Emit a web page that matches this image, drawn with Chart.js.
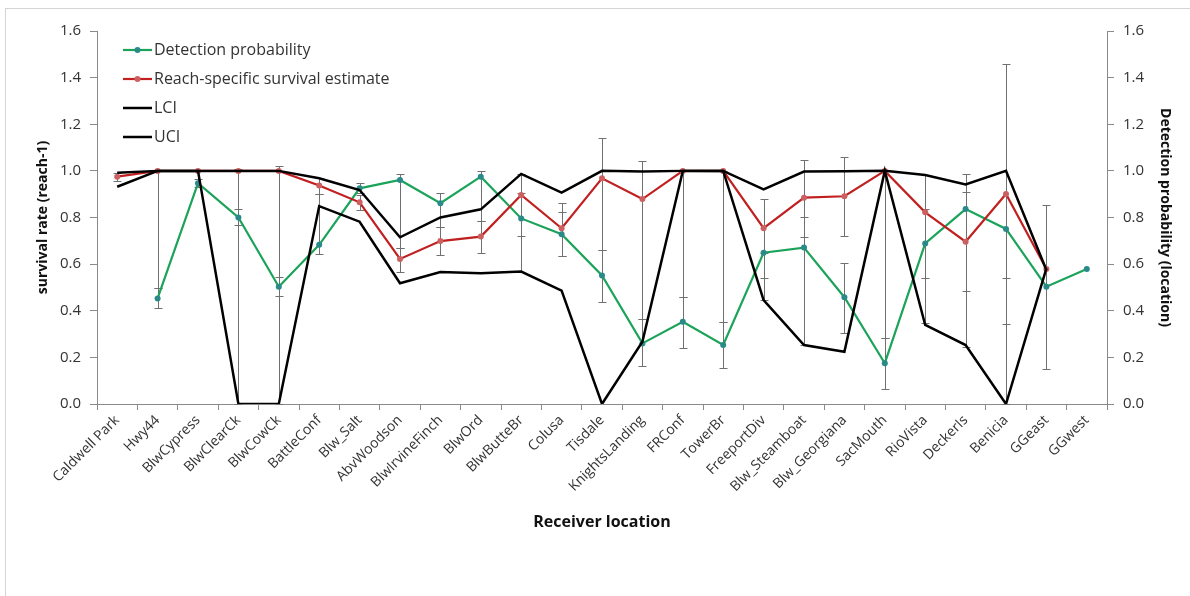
<!DOCTYPE html>
<html>
<head>
<meta charset="utf-8">
<script src="https://cdn.jsdelivr.net/npm/chart.js@4/dist/chart.umd.min.js"></script>
<style>
  html, body { margin: 0; padding: 0; background: #fff; overflow: hidden; }
  #wrap { position: relative; width: 1190px; height: 596px; }
  #frame { position: absolute; left: 5px; top: 8px; width: 2000px; height: 2000px;
           border-left: 1px solid #d4d4d4; border-top: 1px solid #d4d4d4; }
  canvas { position: absolute; left: 0; top: 0; }
</style>
</head>
<body>
<div id="wrap">
  <div id="frame"></div>
  <canvas id="chart" width="1190" height="596"></canvas>
</div>
<script>
// Receiver locations, upstream to downstream
const locations = ['Caldwell Park', 'Hwy44', 'BlwCypress', 'BlwClearCk', 'BlwCowCk', 'BattleConf',
  'Blw_Salt', 'AbvWoodson', 'BlwIrvineFinch', 'BlwOrd', 'BlwButteBr', 'Colusa', 'Tisdale',
  'KnightsLanding', 'FRConf', 'TowerBr', 'FreeportDiv', 'Blw_Steamboat', 'Blw_Georgiana',
  'SacMouth', 'RioVista', 'DeckerIs', 'Benicia', 'GGeast', 'GGwest'];

// Detection probability at each location (right axis)
const detection = [null, 0.453, 0.947, 0.800, 0.503, 0.683, 0.925, 0.961, 0.861, 0.975, 0.796, 0.728,
  0.551, 0.260, 0.353, 0.253, 0.649, 0.671, 0.458, 0.175, 0.689, 0.836, 0.751, 0.503, 0.579];
const detectionLow = [null, 0.413, 0.930, 0.767, 0.463, 0.643, 0.905, 0.670, 0.758, 0.786, 0.568, 0.636,
  0.439, 0.163, 0.242, 0.156, 0.446, 0.253, 0.303, 0.063, 0.346, 0.246, 0.000, 0.149, null];
const detectionHigh = [null, 0.496, 0.964, 0.835, 0.543, 0.900, 0.947, 0.985, 0.907, 1.000, 0.904, 0.825,
  0.661, 0.365, 0.458, 0.350, 0.649, 0.804, 0.606, 0.282, 0.835, 0.987, 0.539, 0.854, null];

// Reach-specific survival estimate (left axis)
const survival = [0.975, 1.000, 1.000, 1.000, 1.000, 0.937, 0.865, 0.622, 0.699, 0.718, 0.897, 0.754,
  0.968, 0.879, 1.000, 1.000, 0.754, 0.885, 0.891, 1.000, 0.822, 0.696, 0.901, 0.579, null];
const survivalLow = [0.955, 0.496, null, 0.000, 0.000, 0.900, 0.832, 0.568, 0.638, 0.646, 0.720, 0.636,
  0.661, 0.365, 0.458, 0.350, 0.539, 0.715, 0.721, 0.282, 0.539, 0.485, 0.343, null, null];
const survivalHigh = [0.990, 1.000, null, 1.010, 1.022, 0.968, 0.895, 0.670, 0.758, 0.786, 0.987, 0.861,
  1.140, 1.044, 1.000, 1.000, 0.878, 1.047, 1.061, 1.000, 0.982, 0.908, 1.459, null, null];

// Lower and upper confidence limits of survival
const lci = [0.932, 1.000, 1.000, 0.000, 0.000, 0.849, 0.782, 0.518, 0.566, 0.561, 0.568, 0.486,
  0.000, 0.267, 1.000, 1.000, 0.446, 0.253, 0.224, 1.000, 0.339, 0.253, 0.000, 0.582, null];
const uci = [0.992, 1.000, 1.000, 1.000, 1.000, 0.968, 0.918, 0.715, 0.800, 0.835, 0.987, 0.907,
  1.000, 0.997, 1.000, 1.000, 0.921, 0.997, 0.998, 1.000, 0.982, 0.942, 1.000, 0.575, null];

// Shared tick values / labels for both vertical axes
const yTickValues = [0, 0.2, 0.4, 0.6, 0.8, 1.0, 1.2, 1.4, 1.6];
const yTickLabels = ['0.0', '0.2', '0.4', '0.6', '0.8', '1.0', '1.2', '1.4', '1.6'];

const FONT = "'Open Sans', 'Liberation Sans', sans-serif";
const AXIS_GRAY = '#8a8a8a';
const TEXT = '#333333';

// Vertical error bars with caps, drawn behind the lines
const errorBars = {
  id: 'errorBars',
  beforeDatasetsDraw(chart) {
    const ctx = chart.ctx;
    const x = chart.scales.x;
    const sets = [
      { scale: chart.scales.y2, lo: detectionLow, hi: detectionHigh },
      { scale: chart.scales.y, lo: survivalLow, hi: survivalHigh }
    ];
    ctx.save();
    ctx.strokeStyle = '#707070';
    ctx.lineWidth = 1;
    const cap = 4;
    sets.forEach(s => {
      s.lo.forEach((lo, i) => {
        const hi = s.hi[i];
        if (lo === null || hi === null) return;
        const px = Math.round(x.getPixelForValue(i)) + 0.5;
        const pLo = Math.round(s.scale.getPixelForValue(lo)) + 0.5;
        const pHi = Math.round(s.scale.getPixelForValue(hi)) + 0.5;
        ctx.beginPath();
        ctx.moveTo(px, pLo); ctx.lineTo(px, pHi);
        ctx.moveTo(px - cap, pLo); ctx.lineTo(px + cap, pLo);
        ctx.moveTo(px - cap, pHi); ctx.lineTo(px + cap, pHi);
        ctx.stroke();
      });
    });
    ctx.restore();
  }
};

// Legend inside the plot area, top-left, one entry per row
const insideLegend = {
  id: 'insideLegend',
  afterDraw(chart) {
    const ctx = chart.ctx;
    const area = chart.chartArea;
    const x0 = area.left + 26;
    const sample = 29;
    const y0 = area.top + 19;
    const rowH = 29;
    ctx.save();
    ctx.font = "16px " + FONT;
    ctx.textBaseline = 'middle';
    ctx.textAlign = 'left';
    chart.data.datasets.forEach((ds, i) => {
      const y = y0 + i * rowH;
      ctx.strokeStyle = ds.borderColor;
      ctx.lineWidth = ds.borderWidth;
      ctx.beginPath();
      ctx.moveTo(x0, y); ctx.lineTo(x0 + sample, y);
      ctx.stroke();
      if (ds.pointRadius > 0) {
        ctx.fillStyle = ds.pointBackgroundColor;
        ctx.beginPath();
        ctx.arc(x0 + sample / 2, y, ds.pointRadius, 0, Math.PI * 2);
        ctx.fill();
      }
      ctx.fillStyle = TEXT;
      ctx.fillText(ds.label, x0 + sample + 2, y);
    });
    ctx.restore();
  }
};

const yAxisBase = (position, title, titlePad, width) => ({
  type: 'linear',
  position: position,
  min: 0,
  max: 1.6,
  afterBuildTicks(scale) { scale.ticks = yTickValues.map(v => ({ value: v })); },
  afterFit(scale) { scale.width = width; },
  ticks: {
    callback: (v, i) => yTickLabels[i],
    font: { family: FONT, size: 15 },
    color: TEXT,
    padding: 9
  },
  grid: { drawOnChartArea: false, drawTicks: true, tickLength: 7, color: AXIS_GRAY },
  border: { display: true, color: AXIS_GRAY, width: 1 },
  title: {
    display: true,
    text: title,
    font: { family: FONT, size: 14, weight: 'bold' },
    color: '#111',
    padding: { top: titlePad, bottom: 0 }
  }
});

new Chart(document.getElementById('chart'), {
  type: 'line',
  data: {
    labels: locations,
    datasets: [
      {
        label: 'Detection probability',
        data: detection,
        yAxisID: 'y2',
        borderColor: '#1ba35a',
        borderWidth: 2.2,
        pointRadius: 3,
        pointBackgroundColor: '#2a8a8a',
        pointBorderColor: '#2a8a8a',
        pointBorderWidth: 0,
        order: 3
      },
      {
        label: 'Reach-specific survival estimate',
        data: survival,
        yAxisID: 'y',
        borderColor: '#c02020',
        borderWidth: 2.2,
        pointRadius: 3,
        pointBackgroundColor: '#cc6060',
        pointBorderColor: '#cc6060',
        pointBorderWidth: 0,
        order: 2
      },
      {
        label: 'LCI',
        data: lci,
        yAxisID: 'y',
        borderColor: '#000000',
        borderWidth: 2.5,
        pointRadius: 0,
        order: 1
      },
      {
        label: 'UCI',
        data: uci,
        yAxisID: 'y',
        borderColor: '#000000',
        borderWidth: 2.5,
        pointRadius: 0,
        order: 0
      }
    ]
  },
  options: {
    responsive: false,
    animation: false,
    events: [],
    layout: { padding: { left: 10, right: 5, top: 31, bottom: 56 } },
    plugins: {
      legend: { display: false },
      tooltip: { enabled: false }
    },
    scales: {
      x: {
        type: 'category',
        offset: true,
        afterFit(scale) { scale.height = 136; },
        ticks: {
          autoSkip: false,
          minRotation: 45,
          maxRotation: 45,
          font: { family: FONT, size: 14 },
          color: TEXT,
          padding: 2
        },
        grid: { offset: true, drawOnChartArea: false, drawTicks: true, tickLength: 6, color: AXIS_GRAY },
        border: { display: true, color: AXIS_GRAY, width: 1 },
        title: {
          display: true,
          text: 'Receiver location',
          font: { family: FONT, size: 16, weight: 'bold' },
          color: '#111',
          padding: { top: 0, bottom: 8 }
        }
      },
      y: yAxisBase('left', 'survival rate (reach-1)', 25, 87),
      y2: yAxisBase('right', 'Detection probability (location)', 12, 78)
    }
  },
  plugins: [errorBars, insideLegend]
});
</script>
</body>
</html>
